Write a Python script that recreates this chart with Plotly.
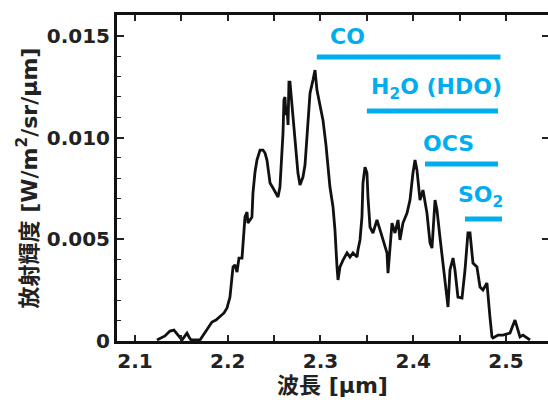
import plotly.graph_objects as go

# Spectrum (wavelength in um, radiance in W/m2/sr/um)
wavelength = [
    2.1237, 2.1323, 2.1377, 2.1420, 2.1464, 2.1507, 2.1539, 2.1561, 2.1582, 2.1604,
    2.1701, 2.1755, 2.1798, 2.1830, 2.1873, 2.1916, 2.1960, 2.1992, 2.2024, 2.2057,
    2.2078, 2.2100, 2.2121, 2.2154, 2.2186, 2.2208, 2.2218, 2.2240, 2.2261, 2.2272,
    2.2294, 2.2315, 2.2348, 2.2380, 2.2402, 2.2423, 2.2456, 2.2488, 2.2520, 2.2542,
    2.2563, 2.2596, 2.2606, 2.2617, 2.2628, 2.2639, 2.2650, 2.2660, 2.2671, 2.2693,
    2.2725, 2.2757, 2.2779, 2.2811, 2.2833, 2.2854, 2.2887, 2.2919, 2.2941, 2.2962,
    2.2995, 2.3027, 2.3059, 2.3102, 2.3135, 2.3156, 2.3178, 2.3189, 2.3210, 2.3243,
    2.3286, 2.3318, 2.3350, 2.3394, 2.3404, 2.3426, 2.3447, 2.3458, 2.3480, 2.3501,
    2.3512, 2.3534, 2.3566, 2.3609, 2.3642, 2.3674, 2.3717, 2.3728, 2.3749, 2.3771,
    2.3803, 2.3836, 2.3857, 2.3889, 2.3933, 2.3965, 2.3997, 2.4019, 2.4040, 2.4073,
    2.4105, 2.4148, 2.4181, 2.4202, 2.4235, 2.4256, 2.4288, 2.4321, 2.4364, 2.4375,
    2.4396, 2.4429, 2.4450, 2.4482, 2.4526, 2.4558, 2.4590, 2.4612, 2.4644, 2.4687,
    2.4720, 2.4752, 2.4795, 2.4806, 2.4827, 2.4849, 2.4860, 2.4914, 2.4968, 2.5043,
    2.5097, 2.5119, 2.5151, 2.5183, 2.5226, 2.5259,
]
radiance = [
    0.00005, 0.00025, 0.00049, 0.00054, 0.00029, 0.00005, 0.00025, 0.00039, 0.00020, 0.00005,
    0.00005, 0.00044, 0.00069, 0.00093, 0.00103, 0.00118, 0.00138, 0.00162, 0.00216, 0.00364,
    0.00374, 0.00339, 0.00408, 0.00408, 0.00610, 0.00634, 0.00580, 0.00595, 0.00610, 0.00728,
    0.00831, 0.00890, 0.00939, 0.00939, 0.00924, 0.00890, 0.00777, 0.00752, 0.00728, 0.00708,
    0.00757, 0.01023, 0.01185, 0.01200, 0.01111, 0.01150, 0.01062, 0.01273, 0.01273, 0.01150,
    0.01003, 0.00826, 0.00767, 0.00806, 0.00865, 0.01003, 0.01219, 0.01283, 0.01332, 0.01234,
    0.01160, 0.01086, 0.00964, 0.00757, 0.00659, 0.00546, 0.00364, 0.00300, 0.00364, 0.00398,
    0.00433, 0.00413, 0.00433, 0.00413, 0.00447, 0.00497, 0.00610, 0.00777, 0.00855, 0.00826,
    0.00708, 0.00560, 0.00531, 0.00595, 0.00546, 0.00497, 0.00433, 0.00334, 0.00482, 0.00580,
    0.00531, 0.00595, 0.00497, 0.00580, 0.00629, 0.00693, 0.00826, 0.00890, 0.00841, 0.00693,
    0.00742, 0.00629, 0.00482, 0.00457, 0.00693, 0.00644, 0.00511, 0.00383, 0.00187, 0.00167,
    0.00349, 0.00408, 0.00349, 0.00216, 0.00211, 0.00349, 0.00531, 0.00531, 0.00383, 0.00364,
    0.00265, 0.00251, 0.00285, 0.00216, 0.00118, 0.00020, 0.00015, 0.00029, 0.00029, 0.00039,
    0.00103, 0.00069, 0.00020, 0.00029, 0.00015, 0.00005,
]

# Absorption band markers
band_names = ["CO", "H<sub>2</sub>O (HDO)", "OCS", "SO<sub>2</sub>"]
band_start = [2.296, 2.350, 2.4127, 2.4558]
band_end = [2.494, 2.4914, 2.4914, 2.4957]
band_level = [0.01396, 0.01131, 0.00870, 0.00600]
label_x = [2.3286, 2.4256, 2.4385, 2.4730]

# Axis ticks
x_tickvals = [2.1, 2.2, 2.3, 2.4, 2.5]
x_ticktext = ["2.1", "2.2", "2.3", "2.4", "2.5"]
x_minorvals = [2.15, 2.25, 2.35, 2.45]
y_tickvals = [0, 0.005, 0.010, 0.015]
y_ticktext = ["0", "0.005", "0.010", "0.015"]

x_range = [2.0806, 2.5453]
y_range = [0, 0.01603]

CYAN = "#00AEEF"
FONT = "DejaVu Sans, Noto Sans CJK JP, sans-serif"
INK = "#222222"

fig = go.Figure()
fig.add_trace(go.Scatter(
    x=wavelength, y=radiance, mode="lines",
    line=dict(color="#111111", width=2.8), showlegend=False, hoverinfo="skip",
))
for s, e, lv in zip(band_start, band_end, band_level):
    fig.add_trace(go.Scatter(
        x=[s, e], y=[lv, lv], mode="lines",
        line=dict(color=CYAN, width=5), showlegend=False, hoverinfo="skip",
    ))
fig.add_trace(go.Scatter(x=[None], y=[None], yaxis="y2", showlegend=False, hoverinfo="skip"))

for name, lx, lv in zip(band_names, label_x, band_level):
    fig.add_annotation(
        x=lx, y=lv, xref="x", yref="y", text="<b>" + name + "</b>",
        showarrow=False, yanchor="bottom", yshift=6,
        font=dict(family=FONT, size=22, color=CYAN),
    )

fig.update_layout(
    width=548, height=402,
    margin=dict(l=117, r=0, t=15, b=61),
    paper_bgcolor="white", plot_bgcolor="white",
    font=dict(family=FONT, size=20, color=INK),
    xaxis=dict(
        range=x_range, tickvals=x_tickvals, ticktext=x_ticktext,
        ticks="inside", ticklen=6, tickwidth=1.5, tickcolor=INK,
        minor=dict(tickvals=x_minorvals, ticks="inside", ticklen=6, tickwidth=1.5,
                   tickcolor=INK, showgrid=False),
        showline=True, linewidth=3, linecolor="#111111", mirror="ticks",
        showgrid=False, zeroline=False,
        tickfont=dict(family=FONT, size=20, color=INK, weight="bold"),
        title=dict(text="<b>波長 [μm]</b>", standoff=6,
                   font=dict(family=FONT, size=22, color=INK)),
    ),
    yaxis=dict(
        range=y_range, tickvals=y_tickvals, ticktext=y_ticktext,
        ticks="inside", ticklen=7, tickwidth=1.5, tickcolor=INK,
        minor=dict(dtick=0.001, ticks="inside", ticklen=4, tickwidth=1.2, tickcolor=INK, showgrid=False),
        showline=True, linewidth=3, linecolor="#111111", mirror=False,
        showgrid=False, zeroline=False,
        tickfont=dict(family=FONT, size=20, color=INK, weight="bold"),
        title=dict(text="<b>放射輝度 [W/m<sup>2</sup>/sr/μm]</b>", standoff=4,
                   font=dict(family=FONT, size=22, color=INK)),
    ),
    yaxis2=dict(
        range=y_range, tickvals=y_tickvals, overlaying="y", side="right", anchor="x",
        ticks="inside", ticklen=6, tickwidth=1.5, tickcolor=INK,
        showticklabels=False, showline=False, showgrid=False, zeroline=False,
    ),
)

fig.write_html("out.html")
